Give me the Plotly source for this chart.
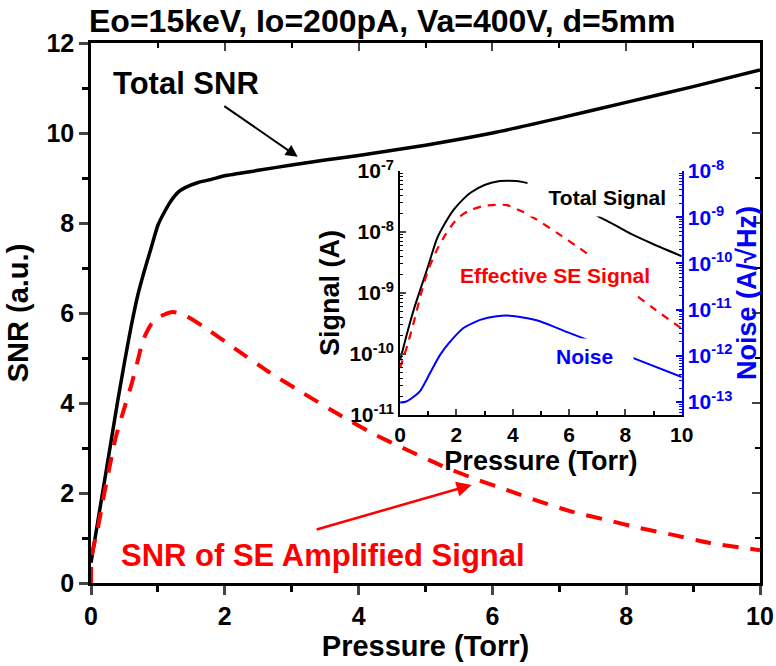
import plotly.graph_objects as go

# ---------------- data ----------------
# main panel: SNR vs pressure
snr_total_p = [0, 0.05, 0.1, 0.2, 0.3, 0.4, 0.5, 0.6, 0.7, 0.8, 0.9, 1.0, 1.1, 1.2, 1.3, 1.4,
               1.6, 1.8, 2.0, 2.5, 3.0, 3.5, 4.0, 5.0, 6.0, 7.0, 8.0, 9.0, 10.0]
snr_total = [0.45, 0.9, 1.35, 2.25, 3.15, 4.05, 4.9, 5.7, 6.4, 6.95, 7.45, 7.95, 8.25, 8.5, 8.68, 8.78,
             8.9, 8.97, 9.05, 9.17, 9.29, 9.4, 9.5, 9.73, 10.0, 10.33, 10.68, 11.03, 11.4]

snr_se_p = [0, 0.01, 0.1, 0.2, 0.3, 0.36, 0.46, 0.61, 0.7, 0.78, 0.9, 1.03, 1.23, 1.4, 1.68, 2.18,
            2.68, 3.17, 3.7, 4.2, 4.72, 5.22, 5.71, 6.21, 6.71, 7.2, 7.71, 8.21, 8.7, 9.25, 10.0]
snr_se = [0.0, 0.6, 1.2, 2.0, 2.75, 3.18, 3.7, 4.44, 4.95, 5.4, 5.75, 5.92, 6.02, 5.95, 5.7, 5.18,
          4.67, 4.22, 3.75, 3.33, 2.96, 2.62, 2.33, 2.07, 1.81, 1.58, 1.4, 1.22, 1.07, 0.89, 0.73]

# inset: signals (A) and noise (A/sqrt(Hz)) vs pressure
sig_total_p = [0, 0.25, 0.5, 0.75, 1.0, 1.3, 1.6, 1.9, 2.2, 2.5, 3.0, 3.5, 3.8, 4.2, 4.6, 5.2,
               6.0, 6.85, 7.5, 8.2, 9.0, 10.0]
sig_total = [7.9e-11, 2.2e-10, 5.6e-10, 1.26e-9, 2.8e-9, 7.6e-9, 1.4e-8, 2.3e-8, 3.3e-8, 4.4e-8,
             5.9e-8, 6.8e-8, 6.9e-8, 6.8e-8, 6.2e-8, 5.0e-8, 3.4e-8, 2.0e-8, 1.4e-8, 9.3e-9,
             6.3e-9, 4.0e-9]

sig_se_p = [0, 0.25, 0.5, 0.75, 1.0, 1.3, 1.6, 1.9, 2.2, 2.5, 3.0, 3.5, 3.8, 4.3, 4.85, 5.6,
            6.38, 7.2, 8.17, 9.0, 10.0]
sig_se = [5.9e-11, 1.35e-10, 3.5e-10, 1.0e-9, 2.4e-9, 5.0e-9, 8.9e-9, 1.4e-8, 1.9e-8, 2.3e-8,
          2.7e-8, 2.8e-8, 2.75e-8, 2.2e-8, 1.6e-8, 9.5e-9, 5.4e-9, 2.8e-9, 1.1e-9, 5.6e-10, 2.6e-10]

noise_p = [0, 0.2, 0.4, 0.7, 1.06, 1.42, 1.77, 2.25, 2.84, 3.43, 3.9, 4.85, 6.03, 6.85, 8.17, 10.0]
noise = [9.8e-14, 1.02e-13, 1.2e-13, 1.7e-13, 4.2e-13, 1.05e-12, 2.0e-12, 4.0e-12, 6.0e-12,
         7.2e-12, 7.4e-12, 5.9e-12, 3.1e-12, 2.0e-12, 9.5e-13, 3.5e-13]

main_xticks = [0, 2, 4, 6, 8, 10]
main_yticks = [0, 2, 4, 6, 8, 10, 12]
inset_xticks = [0, 2, 4, 6, 8, 10]
sig_tickvals = [1e-11, 1e-10, 1e-9, 1e-8, 1e-7]
sig_ticktext = ["10<sup>-11</sup>", "10<sup>-10</sup>", "10<sup>-9</sup>", "10<sup>-8</sup>", "10<sup>-7</sup>"]
noise_tickvals = [1e-13, 1e-12, 1e-11, 1e-10, 1e-9, 1e-8]
noise_ticktext = ["10<sup>-13</sup>", "10<sup>-12</sup>", "10<sup>-11</sup>", "10<sup>-10</sup>",
                  "10<sup>-9</sup>", "10<sup>-8</sup>"]

FONT = "Liberation Sans"
BLUE = "#0000ff"
RED = "#ff0000"

fig = go.Figure()

# main curves
fig.add_trace(go.Scatter(x=snr_total_p, y=snr_total, mode="lines",
                         line=dict(color="black", width=3.5, shape="spline", smoothing=0.6),
                         xaxis="x", yaxis="y", showlegend=False))
fig.add_trace(go.Scatter(x=snr_se_p, y=snr_se, mode="lines",
                         line=dict(color=RED, width=4, dash="16px,12px", shape="spline", smoothing=0.6),
                         xaxis="x", yaxis="y", showlegend=False))
# frame axes (top / right, inward ticks)
fig.add_trace(go.Scatter(x=[], y=[], xaxis="x3", yaxis="y4", showlegend=False))

# inset curves
fig.add_trace(go.Scatter(x=sig_total_p, y=sig_total, mode="lines",
                         line=dict(color="black", width=2, shape="spline", smoothing=0.6),
                         xaxis="x2", yaxis="y2", showlegend=False))
fig.add_trace(go.Scatter(x=sig_se_p, y=sig_se, mode="lines",
                         line=dict(color=RED, width=2.2, dash="8px,7px", shape="spline", smoothing=0.6),
                         xaxis="x2", yaxis="y2", showlegend=False))
fig.add_trace(go.Scatter(x=noise_p, y=noise, mode="lines",
                         line=dict(color=BLUE, width=2, shape="spline", smoothing=0.6),
                         xaxis="x2", yaxis="y3", showlegend=False))

tick_main = dict(family=FONT, size=25, color="black", weight="bold")
tick_inset = dict(family=FONT, size=21, color="black", weight="bold")

fig.update_layout(
    width=776, height=666,
    margin=dict(l=91, r=16, t=43, b=83, autoexpand=False),
    paper_bgcolor="white", plot_bgcolor="rgba(0,0,0,0)",
    xaxis=dict(domain=[0, 1], range=[0, 10], tickvals=main_xticks, ticks="outside", ticklen=9,
               tickwidth=2.5, showline=True, linewidth=2.5, linecolor="black", showgrid=False,
               zeroline=False, tickfont=tick_main, anchor="y", automargin=False,
               minor=dict(dtick=1, ticks="outside", ticklen=6, tickwidth=2.5, tickcolor="black", showgrid=False),
               title=dict(text="Pressure (Torr)", font=dict(family=FONT, size=29, color="black", weight="bold"),
                          standoff=6)),
    yaxis=dict(domain=[0, 1], range=[0, 12], tickvals=main_yticks, ticks="outside", ticklen=9,
               tickwidth=2.5, showline=True, linewidth=2.5, linecolor="black", showgrid=False,
               zeroline=False, tickfont=tick_main, anchor="x", automargin=False,
               minor=dict(dtick=1, ticks="outside", ticklen=6, tickwidth=2.5, tickcolor="black", showgrid=False),
               title=dict(text="SNR (a.u.)", font=dict(family=FONT, size=29, color="black", weight="bold"),
                          standoff=10)),
    xaxis3=dict(overlaying="x", side="top", anchor="y4", range=[0, 10], tickvals=main_xticks,
                ticks="inside", ticklen=8, tickwidth=2, showline=True, linewidth=2.5, linecolor="black",
                showticklabels=False, showgrid=False, zeroline=False, automargin=False,
                minor=dict(dtick=1, ticks="inside", ticklen=5, tickwidth=2, tickcolor="black", showgrid=False)),
    yaxis4=dict(overlaying="y", side="right", anchor="x3", range=[0, 12], tickvals=main_yticks,
                ticks="inside", ticklen=8, tickwidth=2, showline=True, linewidth=2.5, linecolor="black",
                showticklabels=False, showgrid=False, zeroline=False, automargin=False,
                minor=dict(dtick=1, ticks="inside", ticklen=5, tickwidth=2, tickcolor="black", showgrid=False)),
    xaxis2=dict(domain=[0.462, 0.883], anchor="y2", range=[0, 10], tickvals=inset_xticks,
                ticks="inside", ticklen=6, tickwidth=1.5, showline=True, linewidth=1.8, linecolor="black",
                showgrid=False, zeroline=False, tickfont=tick_inset, automargin=False,
                minor=dict(dtick=1, ticks="inside", ticklen=4, tickwidth=1.5, tickcolor="black", showgrid=False),
                title=dict(text="Pressure (Torr)", font=dict(family=FONT, size=27, color="black", weight="bold"),
                           standoff=0)),
    yaxis2=dict(domain=[0.311, 0.763], anchor="x2", type="log", range=[-11, -7],
                tickvals=sig_tickvals, ticktext=sig_ticktext, automargin=False,
                ticks="inside", ticklen=6, tickwidth=1.5, showline=True, linewidth=1.8, linecolor="black",
                showgrid=False, zeroline=False, tickfont=tick_inset,
                minor=dict(dtick="D1", ticks="inside", ticklen=3, tickwidth=1, tickcolor="black", showgrid=False),
                title=dict(text="Signal (A)", font=dict(family=FONT, size=27, color="black", weight="bold"),
                           standoff=2)),
    yaxis3=dict(overlaying="y2", anchor="x2", side="right", type="log", range=[-13.28, -8],
                tickvals=noise_tickvals, ticktext=noise_ticktext, automargin=False,
                ticks="inside", ticklen=6, tickwidth=1.5, tickcolor=BLUE, showline=True, linewidth=1.8,
                linecolor=BLUE, showgrid=False, zeroline=False,
                tickfont=dict(family=FONT, size=21, color=BLUE, weight="bold"),
                minor=dict(dtick="D1", ticks="inside", ticklen=3, tickwidth=1, tickcolor=BLUE, showgrid=False),
                title=dict(text="Noise (A/\u221aHz)", font=dict(family=FONT, size=27, color=BLUE, weight="bold"),
                           standoff=0)),
)

ann_font_big = dict(family=FONT, size=31, weight="bold")
ann_font_small = dict(family=FONT, size=21, weight="bold")

annotations = [
    dict(text="Eo=15keV, Io=200pA, Va=400V, d=5mm", xref="paper", yref="paper", x=-0.006, y=1.041,
         xanchor="left", yanchor="middle", showarrow=False,
         font=dict(family=FONT, size=32, color="black", weight="bold")),
    dict(text="Total SNR", xref="x", yref="y", x=1.42, y=11.09, xanchor="center", yanchor="middle",
         showarrow=False, font=dict(ann_font_big, color="black")),
    dict(text="SNR of SE Amplified Signal", xref="x", yref="y", x=3.47, y=0.62, xanchor="center",
         yanchor="middle", showarrow=False, font=dict(ann_font_big, color=RED)),
    dict(text="", xref="x", yref="y", x=3.09, y=9.47, axref="x", ayref="y", ax=1.97, ay=10.62,
         showarrow=True, arrowhead=2, arrowsize=1.2, arrowwidth=2, arrowcolor="black"),
    dict(text="", xref="x", yref="y", x=5.69, y=2.18, axref="x", ayref="y", ax=3.35, ay=1.18,
         showarrow=True, arrowhead=2, arrowsize=1.2, arrowwidth=2.5, arrowcolor=RED),
    # inset labels with white boxes (cover curves as in original)
    dict(text="Total Signal", xref="x2", yref="y2", x=7.0, y=-7.43, xanchor="center", yanchor="middle",
         width=137, height=35, align="right", bgcolor="white", showarrow=False,
         font=dict(ann_font_small, color="black")),
    dict(text="Effective SE Signal", xref="x2", yref="y2", x=5.5, y=-8.71, xanchor="center",
         yanchor="middle", width=198, height=35, align="center", bgcolor="white", showarrow=False,
         font=dict(ann_font_small, color=RED)),
    dict(text="Noise", xref="x2", yref="y2", x=6.87, y=-10.04, xanchor="center", yanchor="middle",
         width=76, height=32, align="left", bgcolor="white", showarrow=False,
         font=dict(ann_font_small, color=BLUE)),
]
fig.update_layout(annotations=annotations)

fig.write_html("out.html")
